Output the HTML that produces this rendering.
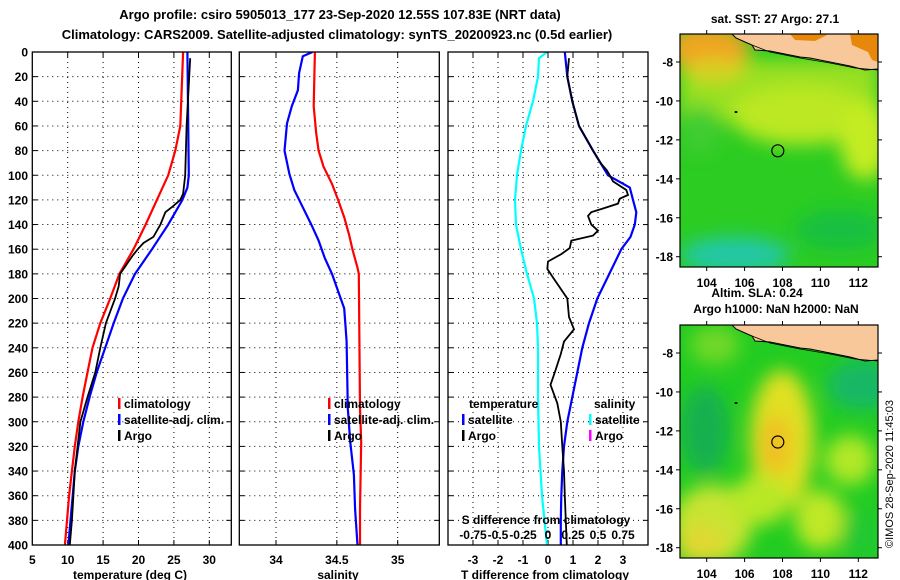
<!DOCTYPE html>
<html><head><meta charset="utf-8"><style>
html,body{margin:0;padding:0;background:#fff}
svg{display:block}
text{font-family:"Liberation Sans",sans-serif;font-weight:bold;fill:#000}
</style></head><body>
<svg id="c" width="900" height="580" viewBox="0 0 900 580" xmlns="http://www.w3.org/2000/svg">
<defs>
<clipPath id="cp1"><rect x="32" y="52" width="199" height="493"/></clipPath>
<clipPath id="cp2"><rect x="239" y="52" width="200" height="493"/></clipPath>
<clipPath id="cp3"><rect x="448" y="52" width="200" height="493"/></clipPath>
<clipPath id="cm1"><rect x="680" y="34" width="198" height="233"/></clipPath>
<clipPath id="cm2"><rect x="680" y="325" width="198" height="233"/></clipPath>
<filter id="bl" x="-50%" y="-50%" width="200%" height="200%"><feGaussianBlur stdDeviation="9"/></filter>
</defs>
<text x="340" y="19" font-size="13" text-anchor="middle">Argo profile: csiro 5905013_177 23-Sep-2020 12.55S 107.83E (NRT data)</text>
<text x="337" y="39" font-size="13" text-anchor="middle">Climatology: CARS2009. Satellite-adjusted climatology: synTS_20200923.nc (0.5d earlier)</text>
<g id="g1"></g>
<g id="g2"></g>
<g id="g3"></g>

<g>
<g clip-path="url(#cm1)">
<rect x="680" y="34" width="198" height="233" fill="#2ccc22"/>
<g filter="url(#bl)">
<rect x="680" y="60" width="198" height="60" fill="#99e022"/>
<ellipse cx="800" cy="115" rx="70" ry="30" fill="#bbe822"/>
<ellipse cx="865" cy="140" rx="25" ry="40" fill="#c4ec22"/>
<ellipse cx="708" cy="48" rx="42" ry="24" fill="#f0a420"/>
<ellipse cx="715" cy="70" rx="30" ry="12" fill="#d8d020"/>
<ellipse cx="735" cy="255" rx="55" ry="18" fill="#22c8a8"/>
<ellipse cx="840" cy="230" rx="45" ry="20" fill="#18c040"/>
<ellipse cx="700" cy="130" rx="20" ry="25" fill="#40cc30"/>
</g>
<polygon points="732,34 736,38 745,42 752,45 755,50 770,51 790,55 800,57 810,58 830,62 850,66 865,70 878,69 878,34" fill="#f8c89a" stroke="#000" stroke-width="1"/>
<polygon points="790,34 795,40 815,41 825,36 828,34" fill="#e8880a"/>
<polygon points="850,34 852,45 868,52 872,60 878,62 878,34" fill="#e8880a"/>
<path d="M752,45 L770,52 L800,58 L830,63 L855,68 L878,70" fill="none" stroke="#000" stroke-width="0.8"/>
<ellipse cx="736" cy="112" rx="1.5" ry="1" fill="#000"/>
<circle cx="777.8" cy="150.8" r="6" fill="none" stroke="#000" stroke-width="1.2"/>
</g>
<rect x="680" y="34" width="198" height="233" fill="none" stroke="#000" stroke-width="1.2"/>
</g>
<g>
<g clip-path="url(#cm2)">
<rect x="680" y="325" width="198" height="233" fill="#22cc22"/>
<g filter="url(#bl)">
<ellipse cx="705" cy="430" rx="24" ry="45" fill="#14b050"/>
<ellipse cx="862" cy="385" rx="35" ry="25" fill="#18b866"/>
<ellipse cx="782" cy="440" rx="32" ry="70" fill="#e0e024"/>
<ellipse cx="776" cy="445" rx="16" ry="30" fill="#f0c020"/>
<ellipse cx="712" cy="525" rx="40" ry="40" fill="#c8e430"/>
<ellipse cx="700" cy="545" rx="25" ry="20" fill="#e0d830"/>
<ellipse cx="850" cy="460" rx="25" ry="25" fill="#b0e828"/>
<ellipse cx="760" cy="500" rx="30" ry="25" fill="#b8e828"/>
<ellipse cx="820" cy="520" rx="25" ry="30" fill="#c0e828"/>
<ellipse cx="715" cy="345" rx="25" ry="20" fill="#70d828"/>
<ellipse cx="860" cy="535" rx="20" ry="25" fill="#20c830"/>
</g>
<polygon points="732,325 736,329 745,333 752,336 755,341 770,342 790,346 800,348 810,349 830,353 850,357 865,361 878,360 878,325" fill="#f8c89a" stroke="#000" stroke-width="1"/>
<path d="M752,336 L770,343 L800,349 L830,354 L855,359 L878,361" fill="none" stroke="#000" stroke-width="0.8"/>
<ellipse cx="736" cy="403" rx="1.5" ry="1" fill="#000"/>
<circle cx="777.8" cy="442" r="6" fill="none" stroke="#000" stroke-width="1.2"/>
</g>
<rect x="680" y="325" width="198" height="233" fill="none" stroke="#000" stroke-width="1.2"/>
</g>
<text x="775" y="23" font-size="12" text-anchor="middle">sat. SST: 27 Argo: 27.1</text>
<text x="757" y="297" font-size="12" text-anchor="middle">Altim. SLA: 0.24</text>
<text x="776" y="313" font-size="12" text-anchor="middle">Argo h1000: NaN h2000: NaN</text>
<g id="gm"></g>
<text transform="translate(893,548) rotate(-90)" font-size="11" style="font-weight:normal">©IMOS 28-Sep-2020 11:45:03</text>
</svg>
<script>
// ---- data ----
const depthTicks = [0,20,40,60,80,100,120,140,160,180,200,220,240,260,280,300,320,340,360,380,400];
const tempTicks = [5,10,15,20,25,30];
const salTicks = [34,34.5,35];
const salTickLabels = ["34","34.5","35"];
const dTTicks = [-3,-2,-1,0,1,2,3];
const dSTicks = [-0.75,-0.5,-0.25,0,0.25,0.5,0.75];
const dSTickLabels = ["-0.75","-0.5","-0.25","0","0.25","0.5","0.75"];
const lonTicks = [104,106,108,110,112];
const latTicks = [-8,-10,-12,-14,-16,-18];

const climTDepth = [0,60,80,100,120,140,160,170,180,200,220,240,260,280,300,320,340,360,380,400];
const climT = [26.3,25.9,25.2,24.2,22.6,21.0,19.3,18.3,17.3,16.0,14.6,13.5,12.8,12.1,11.5,11.0,10.6,10.2,9.9,9.6];
const satTDepth = [0,100,110,120,140,160,180,200,220,240,260,280,300,320,340,360,380,400];
const satT = [26.9,27.1,26.9,26.2,24.2,21.9,19.5,17.8,16.5,15.3,14.1,13.1,12.2,11.5,11.0,10.7,10.4,10.1];
const argoTDepth = [5,60,100,115,120,125,130,140,150,155,160,165,170,180,190,200,220,240,260,280,300,320,340,360,380,400];
const argoT = [27.3,26.8,26.6,26.3,25.9,24.9,23.8,23.1,22.1,20.7,19.9,19.2,18.6,17.4,17.2,16.7,15.4,14.6,13.9,12.8,11.8,11.4,11.0,10.8,10.6,10.3];

const climSDepth = [0,44,66,80,93,107,120,134,148,161,175,180,289,316,371,400];
const climS = [34.32,34.31,34.33,34.35,34.39,34.46,34.51,34.56,34.60,34.63,34.67,34.68,34.69,34.70,34.69,34.69];
const satSDepth = [0,3.5,17,31,44,58,80,99,112,126,140,153,167,180,194,208,221,235,289,316,343,371,400];
const satS = [34.30,34.22,34.19,34.18,34.13,34.09,34.07,34.11,34.15,34.22,34.29,34.35,34.40,34.46,34.51,34.56,34.57,34.58,34.59,34.61,34.64,34.65,34.67];

const dTDepth = [0,20,40,60,80,90,100,110,120,130,140,150,160,180,200,220,240,260,280,300,320,340,360,380,400];
const satDT = [0.67,0.77,0.97,1.24,1.80,2.10,2.40,3.27,3.40,3.53,3.47,3.30,2.93,2.45,1.97,1.64,1.37,1.17,0.97,0.77,0.64,0.57,0.53,0.51,0.51];
const argoDTDepth = [5,20,40,60,80,90,96,100,105,112,116,119,123,127,130,133,140,145,149,153,159,164,170,176,183,200,215,225,235,245,260,270,285,300,320,340,360,380,400];
const argoDT = [0.84,0.77,0.97,1.24,1.80,2.10,2.35,2.47,2.60,3.13,3.20,2.87,2.80,2.20,1.73,1.60,1.73,2.00,1.80,0.93,0.87,0.53,0.00,-0.03,0.20,0.77,0.84,1.04,0.64,0.51,0.27,0.10,0.37,0.51,0.57,0.64,0.67,0.71,0.75];
const dSDepth = [0,5,20,40,60,80,100,120,140,160,180,200,220,240,280,320,360,400];
const satDS = [-0.01,-0.09,-0.10,-0.15,-0.22,-0.27,-0.31,-0.33,-0.32,-0.27,-0.21,-0.14,-0.11,-0.10,-0.10,-0.09,-0.06,-0.01];

// ---- geometry ----
const Y0=52, Y1=545;
const yD = d => Y0 + d*(Y1-Y0)/400;
const xT = t => 32.3 + (t-5)*7.08;
const xS = s => 276 + (s-34)*121.7;
const xDT = t => 548 + t*25;
const xDS = s => 548 + s*100;
const xLon = l => 706.7 + (l-104)*18.95;
const yLat1 = l => 62 + (-8-l)*19.47;
const yLat2 = l => 353 + (-8-l)*19.47;
const NS='http://www.w3.org/2000/svg';
function mk(tag, attrs, parent){const e=document.createElementNS(NS,tag);for(const k in attrs)e.setAttribute(k,attrs[k]);parent.appendChild(e);return e;}
function txt(s, attrs, parent){const e=mk('text',attrs,parent);e.textContent=s;return e;}

function frame(g, L, R, xs, xfn, showDepthLabels){
  depthTicks.forEach(d=>{
    if(d>0&&d<400){const l=mk('line',{x1:L,x2:R,y1:yD(d),y2:yD(d),stroke:'#000','stroke-width':1,'stroke-dasharray':'1,4'},g);
    
    }
    mk('line',{x1:L,x2:L+5,y1:yD(d),y2:yD(d),stroke:'#000','stroke-width':1},g);
    mk('line',{x1:R-5,x2:R,y1:yD(d),y2:yD(d),stroke:'#000','stroke-width':1},g);
    if(showDepthLabels){const t=txt(String(d),{x:28,y:yD(d)+4.5,'font-size':12,'text-anchor':'end'},g);
      
      }
  });
  xs.forEach(v=>{const x=xfn(v);
    const l=mk('line',{x1:x,x2:x,y1:Y0,y2:Y1,stroke:'#000','stroke-width':1,'stroke-dasharray':'1,4'},g);
    
    
    mk('line',{x1:x,x2:x,y1:Y0,y2:Y0+5,stroke:'#000'},g);
    mk('line',{x1:x,x2:x,y1:Y1-5,y2:Y1,stroke:'#000'},g);
  });
}
function series(g, depths, vals, xfn, color, name, clip, w){
  const pts=depths.map((d,i)=>xfn(vals[i]).toFixed(1)+','+yD(d).toFixed(1)).join(' ');
  const p=mk('polyline',{points:pts,fill:'none',stroke:color,'stroke-width':w||2.2,'clip-path':'url(#'+clip+')'},g);
  
  
}
function legend(g, x, y, color, label, name){
  mk('rect',{x:x,y:y-6,width:2.5,height:11,fill:color},g);
  const t=txt(label,{x:x+6,y:y+4,'font-size':12},g);
  
  
}
function box(g,L,R){const r=mk('rect',{x:L,y:Y0,width:R-L,height:Y1-Y0,fill:'none',stroke:'#000','stroke-width':1.3},g);
  
  }

// Panel 1
const g1=document.getElementById('g1');
frame(g1,32.3,231.3,[10,15,20,25,30],xT,true);
series(g1,climTDepth,climT,xT,'#ff0000','climatology-temperature-line','cp1');
series(g1,satTDepth,satT,xT,'#0000ff','satellite-temperature-line','cp1');
series(g1,argoTDepth,argoT,xT,'#000000','argo-temperature-line','cp1',1.8);
box(g1,32.3,231.3);
tempTicks.forEach(v=>{const t=txt(String(v),{x:xT(v),y:564,'font-size':12,'text-anchor':'middle'},g1);
  
  });
txt('temperature (deg C)',{x:130,y:579,'font-size':12,'text-anchor':'middle',},g1);
legend(g1,118,404,'#ff0000','climatology','legend-climatology');
legend(g1,118,420,'#0000ff','satellite-adj. clim.','legend-satellite');
legend(g1,118,436,'#000000','Argo','legend-argo');

// Panel 2
const g2=document.getElementById('g2');
frame(g2,239.3,439.3,salTicks,xS,false);
series(g2,climSDepth,climS,xS,'#ff0000','climatology-salinity-line','cp2');
series(g2,satSDepth,satS,xS,'#0000ff','satellite-salinity-line','cp2');
box(g2,239.3,439.3);
salTicks.forEach((v,i)=>{const t=txt(salTickLabels[i],{x:xS(v),y:564,'font-size':12,'text-anchor':'middle'},g2);
  
  });
txt('salinity',{x:338,y:579,'font-size':12,'text-anchor':'middle',},g2);
legend(g2,328,404,'#ff0000','climatology','legend-climatology');
legend(g2,328,420,'#0000ff','satellite-adj. clim.','legend-satellite');
legend(g2,328,436,'#000000','Argo','legend-argo');

// Panel 3
const g3=document.getElementById('g3');
frame(g3,448,648,dTTicks,xDT,false);
series(g3,dSDepth,satDS,xDS,'#00ffff','satellite-salinity-diff-line','cp3');
series(g3,dTDepth,satDT,xDT,'#0000ff','satellite-temperature-diff-line','cp3');
series(g3,argoDTDepth,argoDT,xDT,'#000000','argo-temperature-diff-line','cp3',1.8);
box(g3,448,648);
dTTicks.forEach(v=>{const t=txt(String(v),{x:xDT(v),y:564,'font-size':12,'text-anchor':'middle'},g3);
  
  });
txt('T difference from climatology',{x:545,y:579,'font-size':12,'text-anchor':'middle',},g3);
txt('S difference from climatology',{x:546,y:524,'font-size':12,'text-anchor':'middle',},g3);
dSTicks.forEach((v,i)=>{const t=txt(dSTickLabels[i],{x:xDS(v),y:539,'font-size':12,'text-anchor':'middle'},g3);
  
  });
txt('temperature',{x:469,y:408,'font-size':12,},g3);
txt('salinity',{x:594,y:408,'font-size':12,},g3);
legend(g3,462,420,'#0000ff','satellite','legend-t-satellite');
legend(g3,462,436,'#000000','Argo','legend-t-argo');
legend(g3,589,420,'#00ffff','satellite','legend-s-satellite');
legend(g3,589,436,'#ff00ff','Argo','legend-s-argo');

// Map axes
const gm=document.getElementById('gm');
[[34,267,yLat1,287],[325,558,yLat2,578]].forEach(([top,bot,yl,ly])=>{
  lonTicks.forEach(v=>{const x=xLon(v);
    mk('line',{x1:x,x2:x,y1:top-4,y2:top,stroke:'#000'},gm);
    mk('line',{x1:x,x2:x,y1:bot,y2:bot+4,stroke:'#000'},gm);
    const t=txt(String(v),{x:x,y:ly,'font-size':12,'text-anchor':'middle'},gm);
    
    });
  latTicks.forEach(v=>{const y=yl(v);
    mk('line',{x1:676,x2:680,y1:y,y2:y,stroke:'#000'},gm);
    mk('line',{x1:878,x2:882,y1:y,y2:y,stroke:'#000'},gm);
    const t=txt(String(v),{x:673,y:y+4.5,'font-size':12,'text-anchor':'end'},gm);
    
    });
});
</script>
</body></html>
